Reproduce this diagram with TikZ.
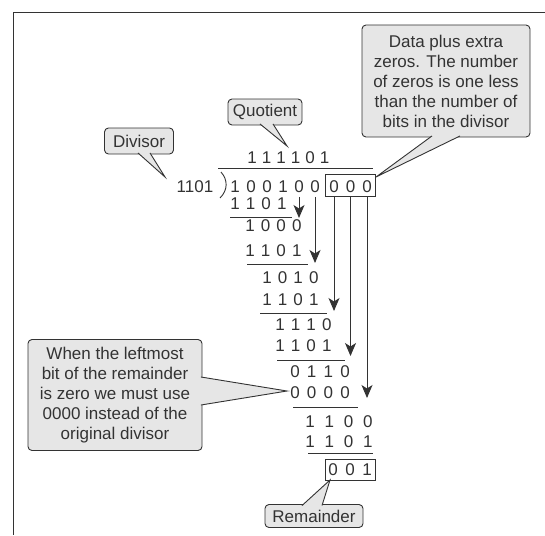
\documentclass[tikz,border=0pt]{standalone}
\usepackage{fontspec}
\setmainfont{Liberation Sans}
\usetikzlibrary{arrows.meta,positioning}
\definecolor{callfill}{HTML}{E6E6E6}
\definecolor{inkgray}{HTML}{333333}
\newcommand\callptr[3]{\fill[callfill] #1 -- #3 -- #2 -- cycle;
  \draw[rule] #1 -- #3 -- #2;}

\begin{document}
\begin{tikzpicture}[x=1pt,y=-1pt,
    every node/.style={font=\fontsize{17}{20}\selectfont,text=inkgray},
    rule/.style={draw=inkgray,line width=0.9pt},
    callout/.style={rule,fill=callfill,rounded corners=4pt,align=center,inner sep=3pt},
    bit/.style={inner sep=0pt},
    bitbox/.style={rule,minimum width=50pt,minimum height=22pt,inner sep=0pt},
    drop/.style={rule,-{Stealth[length=13pt,width=11pt,inset=3.5pt]}}]
    \useasboundingbox (0,0) rectangle (545,535);
    % frame of the scanned page
    \draw[rule] (545,12) -- (13,12) -- (13,535);
    % callouts
    \node[callout,minimum width=168pt,minimum height=112pt](dat)at(446,81){Data plus extra\\
        zeros. The number\\of zeros is one less\\than the number of\\bits in the divisor};
    \node[callout,minimum width=74pt,minimum height=26pt](quo)at(265,112){Quotient};
    \node[callout,minimum width=69pt,minimum height=26pt](dvs)at(139,141){Divisor};
    \node[callout,minimum width=174pt,minimum height=111pt](lft)at(115,395){When the leftmost\\
        bit of the remainder\\is zero we must use\\0000 instead of the\\original divisor};
    \node[callout,minimum width=98pt,minimum height=23pt](rem)at(314,516){Remainder};
    % bit rows
    \node[bit](dvd)at(195,187){1101};
    \foreach \nm/\xa/\ya/\pp/\bits in {q/252/158/14.5/{1,1,1,1,0,1},
        d/235/187/16/{1,0,0,1,0,0}, z/334/187/16.5/{0,0,0},
        ra/235/204/15.6/{1,1,0,1}, rb/250/226/15.6/{1,0,0,0},
        rc/250/251/15.6/{1,1,0,1}, rd/267/278/15.6/{1,0,1,0},
        re/267/300/15.6/{1,1,0,1}, rf/280/325/15.6/{1,1,1,0},
        rg/280/346/15.6/{1,1,0,1}, rh/295/372/16.7/{0,1,1,0},
        ri/295/393/16.7/{0,0,0,0}, rj/310/422/19.3/{1,1,0,0},
        rk/310/442/19.3/{1,1,0,1}, rm/333/470/17/{0,0,1}}
        \foreach \b [count=\i from 0] in \bits
            \node[bit](\nm-\i)at(\xa+\i*\pp,\ya){\b};
    \node[bitbox](zbox)at(350.5,185.5){};
    \node[bitbox,minimum height=21pt](rbox)at(350,469.5){};
    % division sign
    \draw[rule] (218,168) -- (373,168);
    \draw[rule] (221,172) .. controls (228,180) and (228,190) .. (220,198);
    % subtraction rules
    \foreach \ya/\xa/\xb in {217/230/292, 264/247/308, 313/260/327,
        360/277/345, 407/293/358, 453/308/373}
        \draw[rule] (\xa,\ya) -- (\xb,\ya);
    % bits brought down
    \foreach \src/\ty in {d-4/218, d-5/263, z-0/311, z-1/356, z-2/398}{
        \coordinate (tip) at (0,\ty);
        \draw[drop] (\src |- zbox.south) -- (\src |- tip);}
    % callout pointers
    \coordinate (qt) at (287,146);
    \coordinate (vt) at (165,177);
    \coordinate (dt) at (376,177);
    \coordinate (lt) at (287,391);
    \coordinate (mt) at (330,480);
    \callptr{([xshift=-5pt,yshift=1.5pt]quo.south)}{([xshift=8pt,yshift=1.5pt]quo.south)}{(qt)}
    \callptr{([xshift=-1pt,yshift=1.5pt]dvs.south)}{([xshift=11pt,yshift=1.5pt]dvs.south)}{(vt)}
    \callptr{([xshift=-14pt,yshift=1.5pt]dat.south)}{([xshift=14pt,yshift=1.5pt]dat.south)}{(dt)}
    \callptr{([xshift=-1.5pt,yshift=18pt]lft.east)}{([xshift=-1.5pt,yshift=-10pt]lft.east)}{(lt)}
    \callptr{([xshift=-12pt,yshift=-1.5pt]rem.north)}{([xshift=8pt,yshift=-1.5pt]rem.north)}{(mt)}
\end{tikzpicture}
\end{document}
